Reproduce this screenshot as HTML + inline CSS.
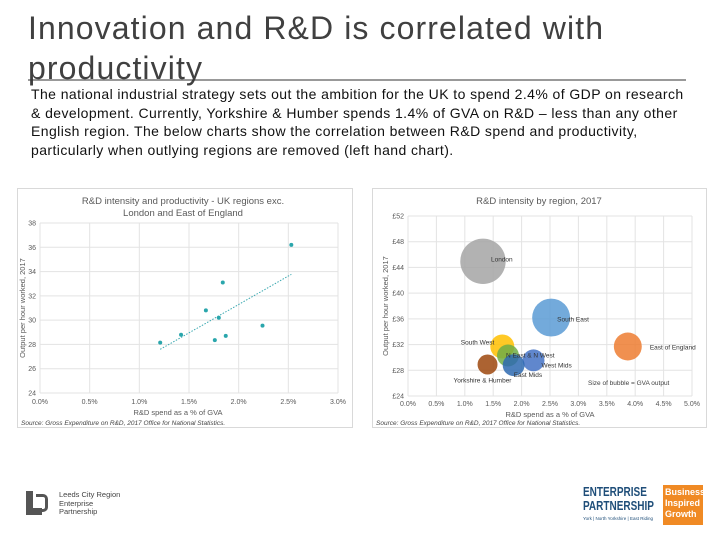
<!DOCTYPE html>
<html><head><meta charset="utf-8"><style>
body{margin:0;width:720px;height:540px;background:#fff;position:relative;overflow:hidden;font-family:"Liberation Sans",sans-serif}
.t{position:absolute;left:28px;top:8px;font-size:32px;letter-spacing:1.1px;line-height:40px;color:#404040;width:690px;white-space:nowrap}
.p{position:absolute;left:31px;top:85px;font-size:14px;letter-spacing:0.42px;line-height:18.6px;color:#111;width:660px}
svg{position:absolute;left:0;top:0}
</style></head><body>
<div class="t">Innovation and R&amp;D is correlated with<br>productivity</div>
<div class="p">The national industrial strategy sets out the ambition for the UK to spend 2.4% of GDP on research &amp; development. Currently, Yorkshire &amp; Humber spends 1.4% of GVA on R&amp;D – less than any other English region. The below charts show the correlation between R&amp;D spend and productivity, particularly when outlying regions are removed (left hand chart).</div>
<svg id="s" width="720" height="540" font-family="Liberation Sans, sans-serif">
<line x1="28" y1="80" x2="686" y2="80" stroke="#333" stroke-width="1"/>
</svg>
<script>
// Left scatter data
const lRates=[1.21,1.42,1.67,1.76,1.80,1.84,1.87,2.24,2.53];
const lProd=[28.15,28.8,30.8,28.35,30.2,33.1,28.7,29.55,36.2];
const lXTicks=[0,0.5,1,1.5,2,2.5,3];
const lYTicks=[24,26,28,30,32,34,36,38];
// Right bubble data
const rNames=["London","South East","East of England","South West","N East & N West","West Mids","East Mids","Yorkshire & Humber"];
const rRates=[1.32,2.52,3.87,1.66,1.76,2.21,1.86,1.40];
const rProd=[44.95,36.2,31.7,31.7,30.3,29.55,28.8,28.9];
const rGva=[430,300,163,120,100,100,100,83];
const rXTicks=[0,0.5,1,1.5,2,2.5,3,3.5,4,4.5,5];
const rYTicks=[24,28,32,36,40,44,48,52];

const s=document.getElementById('s');const NS='http://www.w3.org/2000/svg';
function mk(t,a,txt){const e=document.createElementNS(NS,t);for(const k in a)e.setAttribute(k,a[k]);if(txt!==undefined)e.textContent=txt;s.appendChild(e);return e;}
let f=mk('rect',{x:17.5,y:188.5,width:335,height:239,fill:'#fff',stroke:'#d9d9d9'});


f=mk('rect',{x:372.5,y:188.5,width:334,height:239,fill:'#fff',stroke:'#d9d9d9'});



const lx=v=>40+v*(338-40)/3, ly=v=>393-(v-24)*(393-223)/14;
lXTicks.forEach(v=>{let g=mk('line',{x1:lx(v),x2:lx(v),y1:223,y2:393,stroke:'#e3e3e3'});

let t=mk('text',{x:lx(v),y:404,'font-size':7,fill:'#595959','text-anchor':'middle'},v.toFixed(1)+'%');
});
lYTicks.forEach(v=>{let g=mk('line',{x1:40,x2:338,y1:ly(v),y2:ly(v),stroke:'#e3e3e3'});

let t=mk('text',{x:36,y:ly(v)+2.5,'font-size':7,fill:'#595959','text-anchor':'end'},v);
});
let e=mk('text',{x:183,y:204,'font-size':9.5,fill:'#595959','text-anchor':'middle'},'R&D intensity and productivity - UK regions exc.');

e=mk('text',{x:183,y:216,'font-size':9.5,fill:'#595959','text-anchor':'middle'},'London and East of England');

e=mk('text',{x:178,y:415,'font-size':7.5,fill:'#595959','text-anchor':'middle'},'R&D spend as a % of GVA');

e=mk('text',{x:25,y:308,'font-size':7.5,fill:'#595959','text-anchor':'middle',transform:'rotate(-90 25 308)'},'Output per hour worked, 2017');

e=mk('text',{x:21,y:425,'font-size':6.5,fill:'#444','font-style':'italic'},'Source: Gross Expenditure on R&D, 2017 Office for National Statistics.');

const n=lRates.length,mx=lRates.reduce((a,b)=>a+b)/n,my=lProd.reduce((a,b)=>a+b)/n;
let sxy=0,sxx=0;lRates.forEach((x,i)=>{sxy+=(x-mx)*(lProd[i]-my);sxx+=(x-mx)*(x-mx);});
const sl=sxy/sxx,ic=my-sl*mx,x0=Math.min(...lRates),x1=Math.max(...lRates);
e=mk('line',{x1:lx(x0),y1:ly(ic+sl*x0),x2:lx(x1),y2:ly(ic+sl*x1),stroke:'#3aa8b0','stroke-width':1,'stroke-dasharray':'1.5,1.5'});

lRates.forEach((x,i)=>{let c=mk('circle',{cx:lx(x),cy:ly(lProd[i]),r:2,fill:'#2aa6ac'});
});

const rx=v=>408+v*(692-408)/5, ry=v=>396-(v-24)*(396-216)/28;
rXTicks.forEach(v=>{let g=mk('line',{x1:rx(v),x2:rx(v),y1:216,y2:396,stroke:'#e3e3e3'});

let t=mk('text',{x:rx(v),y:406,'font-size':7,fill:'#595959','text-anchor':'middle'},v.toFixed(1)+'%');
});
rYTicks.forEach(v=>{let g=mk('line',{x1:408,x2:692,y1:ry(v),y2:ry(v),stroke:'#e3e3e3'});

let t=mk('text',{x:404,y:ry(v)+2.5,'font-size':7,fill:'#595959','text-anchor':'end'},'£'+v);
});
e=mk('text',{x:539,y:204,'font-size':9.5,fill:'#595959','text-anchor':'middle'},'R&D intensity by region, 2017');

e=mk('text',{x:550,y:417,'font-size':7.5,fill:'#595959','text-anchor':'middle'},'R&D spend as a % of GVA');

e=mk('text',{x:388,y:306,'font-size':7.5,fill:'#595959','text-anchor':'middle',transform:'rotate(-90 388 306)'},'Output per hour worked, 2017');

e=mk('text',{x:376,y:425,'font-size':6.5,fill:'#444','font-style':'italic'},'Source: Gross Expenditure on R&D, 2017 Office for National Statistics.');

e=mk('text',{x:588,y:385,'font-size':6.5,fill:'#404040'},'Size of bubble = GVA output');

const cols=['#a5a5a5','#5b9bd5','#ed7d31','#ffc000','#70ad47','#4472c4','#2e6ab0','#9e480e'];
const lab=[[8,0,'start'],[6,4,'start'],[22,3,'start'],[-8,-2,'end'],[-2,2,'start'],[8,7,'start'],[0,12,'start'],[-5,18,'middle']];
rRates.forEach((x,i)=>{let c=mk('circle',{cx:rx(x),cy:ry(rProd[i]),r:1.095*Math.sqrt(rGva[i]),fill:cols[i],'fill-opacity':0.85});
});
rRates.forEach((x,i)=>{let t=mk('text',{x:rx(x)+lab[i][0],y:ry(rProd[i])+lab[i][1],'font-size':6.5,fill:'#333','text-anchor':lab[i][2]},rNames[i]);
});
</script>
<div style="position:absolute;left:26px;top:491px">
<div style="position:absolute;left:0;top:0;width:7px;height:24px;background:#555"></div>
<div style="position:absolute;left:7px;top:17px;width:9px;height:7px;background:#555"></div>
<div style="position:absolute;left:10px;top:3px;width:9px;height:12px;border:3px solid #555;border-left:none;border-radius:0 5px 5px 0"></div>
<div style="position:absolute;left:33px;top:0;font-size:7.5px;line-height:8.5px;color:#444;white-space:nowrap">Leeds City Region<br>Enterprise<br>Partnership</div>
</div>
<div style="position:absolute;left:583px;top:485px;width:120px;height:40px">
<div style="position:absolute;left:0;top:0;font-size:12.5px;font-weight:bold;color:#1f4e79;line-height:14px;transform:scaleX(0.8);transform-origin:left;white-space:nowrap">ENTERPRISE<br>PARTNERSHIP</div>
<div style="position:absolute;left:0;top:31px;font-size:4.5px;color:#1f4e79;white-space:nowrap">York | North Yorkshire | East Riding</div>
<div style="position:absolute;left:80px;top:0;width:40px;height:40px;background:#f08a24;color:#fff;font-size:9px;font-weight:bold;line-height:11px;padding:2px 0 0 2px;box-sizing:border-box;white-space:nowrap;overflow:hidden">Business<br>Inspired<br>Growth</div>
</div>
</body></html>
